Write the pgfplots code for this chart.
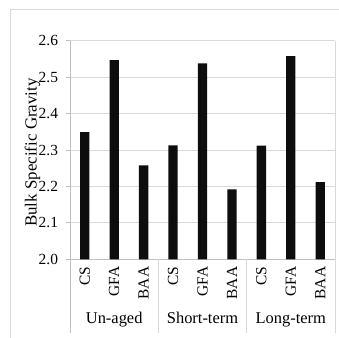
\documentclass[border=0pt]{standalone}
\usepackage{pgfplots}
\pgfplotsset{compat=1.18}
\usepackage{fontspec}
\setmainfont{Liberation Serif}
\newfontfamily\tnr{Liberation Serif}
\definecolor{gridc}{HTML}{D9D9D9}
\definecolor{axc}{HTML}{BFBFBF}
\definecolor{barc}{HTML}{0D0D0D}
\begin{document}
\begin{tikzpicture}
\useasboundingbox (0,0) rectangle (339bp,338bp);
\draw[gridc, line width=0.8bp] (10bp,-2bp) -- (10bp,329bp) -- (341bp,329bp);
\begin{axis}[
  at={(70bp,78.7bp)}, anchor=south west,
  scale only axis, width=265bp, height=218.6bp,
  xmin=-0.5, xmax=8.5, ymin=2.0, ymax=2.6,
  ytick={2.0,2.1,2.2,2.3,2.4,2.5,2.6},
  xtick={0,1,2,3,4,5,6,7,8},
  xticklabels={CS,GFA,BAA,CS,GFA,BAA,CS,GFA,BAA},
  /pgf/number format/assume math mode=true,
  yticklabel style={/pgf/number format/fixed, /pgf/number format/fixed zerofill, /pgf/number format/precision=1, xshift=-4.5bp},
  tick label style={font=\tnr\fontsize{15.5}{16}\selectfont},
  xticklabel style={rotate=90, anchor=east},
  tick align=outside,
  major tick length=4bp,
  xtick style={draw=none},
  ytick style={draw=axc, line width=0.8bp},
  ymajorgrids=true,
  grid style={draw=gridc, line width=0.8bp},
  axis line style={draw=axc, line width=0.8bp},
  axis x line*=bottom,
  axis y line*=left,
  ybar, bar width=0.316,
]
\addplot[fill=barc, draw=none] coordinates {
(0,2.349) (1,2.547) (2,2.258)
(3,2.313) (4,2.538) (5,2.192)
(6,2.312) (7,2.558) (8,2.212)};
\end{axis}
\draw[axc, line width=0.8bp] (70bp,78.7bp) -- (70bp,5bp);
\draw[gridc, line width=0.8bp] (158.33bp,78.7bp) -- (158.33bp,5bp);
\draw[gridc, line width=0.8bp] (246.67bp,78.7bp) -- (246.67bp,5bp);
\draw[gridc, line width=0.8bp] (335bp,297.3bp) -- (335bp,5bp);
\node[font=\tnr\fontsize{16.5}{18}\selectfont, anchor=base] at (114.2bp,15bp) {Un-aged};
\node[font=\tnr\fontsize{16.5}{18}\selectfont, anchor=base] at (202.5bp,15bp) {Short-term};
\node[font=\tnr\fontsize{16.5}{18}\selectfont, anchor=base] at (290.8bp,15bp) {Long-term};
\node[font=\tnr\fontsize{17}{18}\selectfont, rotate=90, anchor=base] at (36.5bp,185.5bp) {Bulk Specific Gravity};
\end{tikzpicture}
\end{document}
